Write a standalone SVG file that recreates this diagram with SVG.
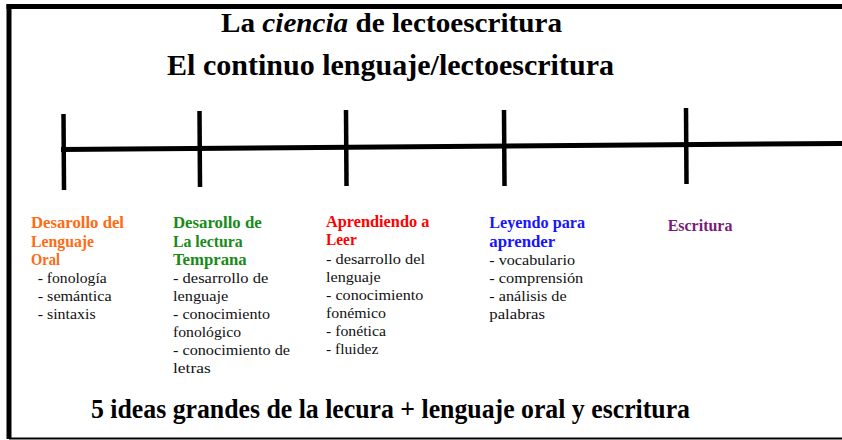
<svg xmlns="http://www.w3.org/2000/svg" width="842" height="440" viewBox="0 0 842 440">
<style>
.t{font-family:"Liberation Serif","Times New Roman",serif;font-weight:bold;fill:#000}
.h{font-family:"Liberation Serif","Times New Roman",serif;font-weight:bold;font-size:16px}
.b{font-family:"Liberation Serif","Times New Roman",serif;font-size:15px;fill:#111}
.ln{stroke:#000;fill:none;stroke-linecap:butt}
</style>
<rect width="842" height="440" fill="#fff"/>
<g id="frame">
<line class="ln" x1="9" y1="4" x2="9" y2="439" stroke-width="5"/>
<line class="ln" x1="6.5" y1="6.5" x2="842" y2="6.5" stroke-width="5"/>
<line class="ln" x1="9" y1="438.5" x2="842" y2="438.5" stroke-width="2"/>
</g>
<g id="titles">
<text class="t" x="221" y="32" font-size="27" textLength="341" lengthAdjust="spacingAndGlyphs">La <tspan font-style="italic">ciencia</tspan> de lectoescritura</text>
<text class="t" x="167" y="75" font-size="29" textLength="447" lengthAdjust="spacingAndGlyphs">El continuo lenguaje/lectoescritura</text>
<text class="t" x="91" y="418" font-size="27" textLength="599" lengthAdjust="spacingAndGlyphs">5 ideas grandes de la lecura + lenguaje oral y escritura</text>
</g>
<g id="connectors">
<line class="ln" x1="61" y1="149.5" x2="842" y2="143.5" stroke-width="5"/>
<line class="ln" x1="63.5" y1="114" x2="64" y2="190" stroke-width="4.5"/>
<line class="ln" x1="199.5" y1="111" x2="200" y2="187" stroke-width="4.5"/>
<line class="ln" x1="346" y1="110" x2="346.5" y2="186" stroke-width="4.5"/>
<line class="ln" x1="504" y1="110" x2="504.5" y2="186" stroke-width="4.5"/>
<line class="ln" x1="686" y1="108" x2="686.5" y2="184" stroke-width="4.5"/>
</g>
<g id="oral">
<text class="h" fill="#FF6A13"><tspan x="31" y="228" textLength="93" lengthAdjust="spacingAndGlyphs">Desarollo del</tspan><tspan x="31" y="246.5" textLength="63" lengthAdjust="spacingAndGlyphs">Lenguaje</tspan><tspan x="31" y="265" textLength="29" lengthAdjust="spacingAndGlyphs">Oral</tspan></text>
<text class="b"><tspan x="37.7" y="283" textLength="69" lengthAdjust="spacingAndGlyphs">- fonología</tspan><tspan x="37.7" y="301" textLength="74" lengthAdjust="spacingAndGlyphs">- semántica</tspan><tspan x="37.7" y="319" textLength="58" lengthAdjust="spacingAndGlyphs">- sintaxis</tspan></text>
</g>
<g id="temprana">
<text class="h" fill="#178A17"><tspan x="173" y="228" textLength="88.7" lengthAdjust="spacingAndGlyphs">Desarollo de</tspan><tspan x="173" y="246.5" textLength="69.7" lengthAdjust="spacingAndGlyphs">La lectura</tspan><tspan x="173" y="265" textLength="73.7" lengthAdjust="spacingAndGlyphs">Temprana</tspan></text>
<text class="b"><tspan x="173" y="283" textLength="95.3" lengthAdjust="spacingAndGlyphs">- desarrollo de</tspan><tspan x="173" y="301" textLength="55.3" lengthAdjust="spacingAndGlyphs">lenguaje</tspan><tspan x="173" y="319" textLength="97" lengthAdjust="spacingAndGlyphs">- conocimiento</tspan><tspan x="173" y="337" textLength="68" lengthAdjust="spacingAndGlyphs">fonológico</tspan><tspan x="173" y="355" textLength="117" lengthAdjust="spacingAndGlyphs">- conocimiento de</tspan><tspan x="173" y="373" textLength="37.7" lengthAdjust="spacingAndGlyphs">letras</tspan></text>
</g>
<g id="aprendiendo">
<text class="h" fill="#FF0000"><tspan x="326" y="227" textLength="103.3" lengthAdjust="spacingAndGlyphs">Aprendiendo a</tspan><tspan x="326" y="245" textLength="30.7" lengthAdjust="spacingAndGlyphs">Leer</tspan></text>
<text class="b"><tspan x="326" y="263.5" textLength="99" lengthAdjust="spacingAndGlyphs">- desarrollo del</tspan><tspan x="326" y="281.5" textLength="54.7" lengthAdjust="spacingAndGlyphs">lenguaje</tspan><tspan x="326" y="299.5" textLength="97.3" lengthAdjust="spacingAndGlyphs">- conocimiento</tspan><tspan x="326" y="317.5" textLength="60" lengthAdjust="spacingAndGlyphs">fonémico</tspan><tspan x="326" y="335.5" textLength="60" lengthAdjust="spacingAndGlyphs">- fonética</tspan><tspan x="326" y="353.5" textLength="52.3" lengthAdjust="spacingAndGlyphs">- fluidez</tspan></text>
</g>
<g id="leyendo">
<text class="h" fill="#1515FF"><tspan x="489.3" y="228" textLength="95.7" lengthAdjust="spacingAndGlyphs">Leyendo para</tspan><tspan x="489.3" y="246.5" textLength="66" lengthAdjust="spacingAndGlyphs">aprender</tspan></text>
<text class="b"><tspan x="489.3" y="265" textLength="85.7" lengthAdjust="spacingAndGlyphs">- vocabulario</tspan><tspan x="489.3" y="283" textLength="94" lengthAdjust="spacingAndGlyphs">- comprensión</tspan><tspan x="489.3" y="301" textLength="77.3" lengthAdjust="spacingAndGlyphs">- análisis de</tspan><tspan x="489.3" y="319" textLength="55.7" lengthAdjust="spacingAndGlyphs">palabras</tspan></text>
</g>
<g id="escritura">
<text class="h" fill="#7A1A78" x="667.7" y="231" textLength="64.7" lengthAdjust="spacingAndGlyphs">Escritura</text>
</g>
</svg>
